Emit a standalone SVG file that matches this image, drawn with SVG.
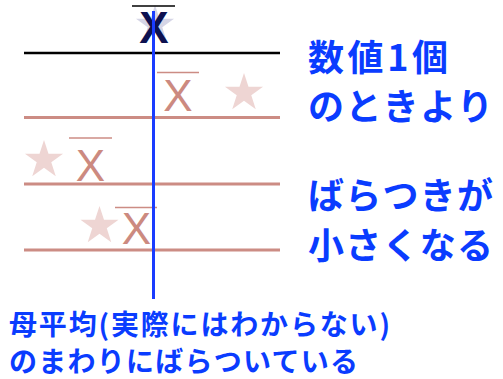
<svg xmlns="http://www.w3.org/2000/svg" width="503" height="379" viewBox="0 0 503 379">
<style>
.lblk{stroke:#000;stroke-width:2.6}
.lpk{stroke:#cc8c84;stroke-width:3}
.ob{stroke:#cc8c84;stroke-width:1.6}
.xp{font-family:"Liberation Sans",Arial,sans-serif;font-size:44px;fill:#cc8a80}
.xn{font-family:"Liberation Sans",Arial,sans-serif;font-size:44px;font-weight:bold;fill:#0d1150}
.sp{fill:#eed5d3}
.jp{font-family:"Noto Sans CJK JP","Noto Sans",sans-serif;font-weight:bold;fill:#0a3cff}
</style>
<defs>
<polygon id="star" points="0,-20 4.49,-6.18 19.02,-6.18 7.27,2.36 11.76,16.18 0,7.64 -11.76,16.18 -7.27,2.36 -19.02,-6.18 -4.49,-6.18"/>
</defs>
<rect width="503" height="379" fill="#fff"/>
<g id="lines">
<line class="lblk" x1="24" y1="53" x2="280" y2="53"/>
<line class="lpk" x1="24" y1="117.5" x2="280" y2="117.5"/>
<line class="lpk" x1="24" y1="184" x2="280" y2="184"/>
<line class="lpk" x1="24" y1="250" x2="280" y2="250"/>
</g>
<g id="top-mean">
<use href="#star" transform="translate(155,25)" fill="#d5d5e6"/>
<text class="xn" x="154" y="43" text-anchor="middle">X</text>
<line x1="132" y1="6" x2="175" y2="6" stroke="#000" stroke-width="1.6"/>
</g>
<g id="sample1">
<text class="xp" x="178" y="111" text-anchor="middle">X</text>
<line class="ob" x1="157" y1="72.5" x2="199" y2="72.5"/>
<use href="#star" class="sp" transform="translate(244,93)"/>
</g>
<g id="sample2">
<use href="#star" class="sp" transform="translate(44,160)"/>
<text class="xp" x="90.5" y="181" text-anchor="middle">X</text>
<line class="ob" x1="69" y1="138" x2="112" y2="138"/>
</g>
<g id="sample3">
<use href="#star" class="sp" transform="translate(99.5,226)"/>
<text class="xp" x="136.5" y="244" text-anchor="middle">X</text>
<line class="ob" x1="115" y1="207.5" x2="157" y2="207.5"/>
</g>
<g id="connectors">
<line x1="153.5" y1="11" x2="153.5" y2="299" stroke="#1a3cff" stroke-width="3"/>
</g>
<g id="label-right">
<text class="jp" x="308" y="71" font-size="36" textLength="140" lengthAdjust="spacing">数値1個</text>
<text class="jp" x="308" y="120" font-size="36" textLength="185" lengthAdjust="spacing">のときより</text>
<text class="jp" x="308" y="209" font-size="36" textLength="185" lengthAdjust="spacing">ばらつきが</text>
<text class="jp" x="308" y="259" font-size="36" textLength="185" lengthAdjust="spacing">小さくなる</text>
</g>
<g id="label-bottom">
<text class="jp" x="9" y="335" font-size="28" textLength="381" lengthAdjust="spacing">母平均(実際にはわからない)</text>
<text class="jp" x="9" y="372" font-size="28" textLength="349" lengthAdjust="spacing">のまわりにばらついている</text>
</g>
</svg>
